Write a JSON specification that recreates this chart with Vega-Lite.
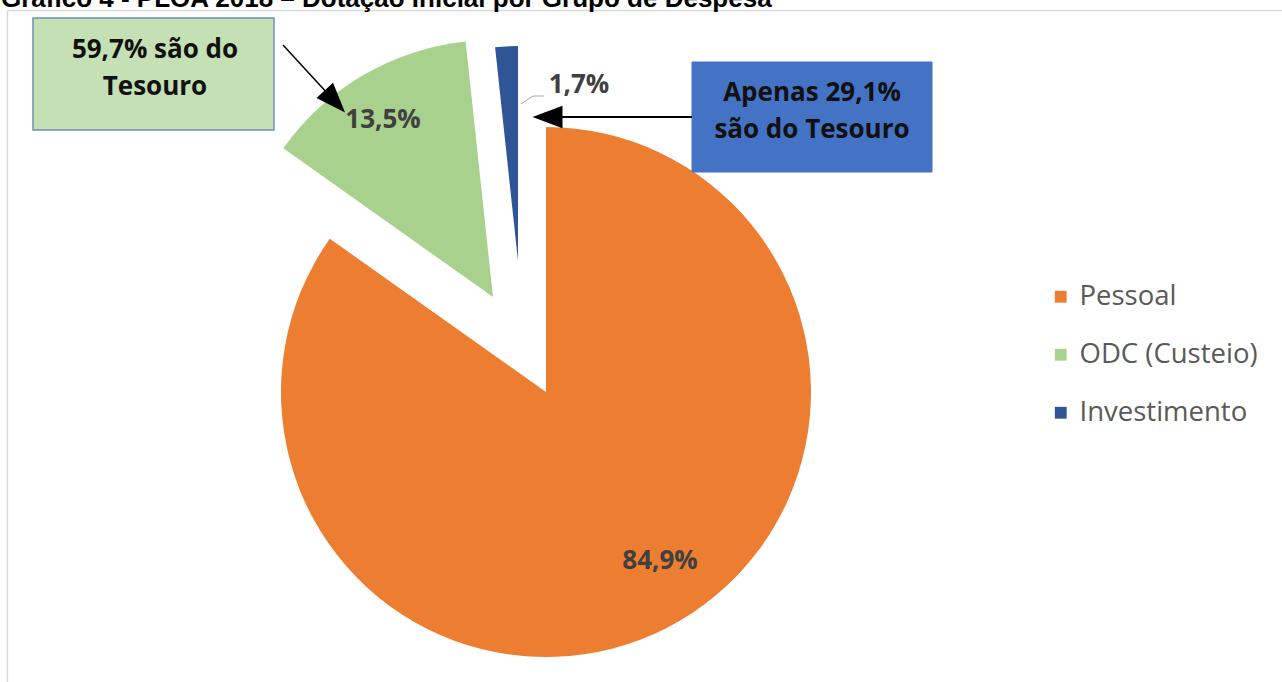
{
  "$schema": "https://vega.github.io/schema/vega-lite/v6.json",
  "width": 1282,
  "height": 682,
  "autosize": "none",
  "padding": 0,
  "background": "white",
  "config": {"view": {"stroke": null}, "font": "Open Sans"},
  "datasets": {
    "grupos": [
      {"grupo": "Pessoal", "valor": 84.9, "rotulo": "84,9%"},
      {"grupo": "ODC (Custeio)", "valor": 13.5, "rotulo": "13,5%"},
      {"grupo": "Investimento", "valor": 1.7, "rotulo": "1,7%"}
    ],
    "notas": [
      {"nota": "verde", "texto": "59,7% são do\nTesouro"},
      {"nota": "azul", "texto": "Apenas 29,1%\nsão do Tesouro"}
    ],
    "titulo": [
      {"texto": "Gráfico 4 - PLOA 2018 – Dotação Inicial por Grupo de Despesa"}
    ]
  },
  "layer": [
    {
      "data": {"values": [{}]},
      "mark": {"type": "rule", "color": "#d9d9d9", "strokeWidth": 1.5},
      "encoding": {"x": {"value": 7.5}, "y": {"value": 10.5}, "x2": {"value": 1282}, "y2": {"value": 10.5}}
    },
    {
      "data": {"values": [{}]},
      "mark": {"type": "rule", "color": "#d9d9d9", "strokeWidth": 1.5},
      "encoding": {"x": {"value": 7.5}, "y": {"value": 10.5}, "x2": {"value": 7.5}, "y2": {"value": 682}}
    },
    {
      "data": {"name": "titulo"},
      "mark": {"type": "text", "x": 1, "y": 6.5, "align": "left", "baseline": "alphabetic", "font": "Liberation Sans", "fontWeight": "bold", "fontSize": 26, "color": "#000000"},
      "encoding": {"text": {"field": "texto"}}
    },
    {
      "data": {"name": "grupos"},
      "transform": [
        {"stack": "valor", "groupby": [], "sort": [{"field": "valor", "order": "descending"}], "as": ["v0", "v1"]},
        {"filter": "datum.grupo === 'Pessoal'"}
      ],
      "mark": {"type": "arc", "x": 546, "y": 392, "radius": 265},
      "encoding": {
        "theta": {"field": "v0", "type": "quantitative", "scale": {"domain": [0, 100.1]}},
        "theta2": {"field": "v1"},
        "color": {
          "field": "grupo", "type": "nominal",
          "scale": {"domain": ["Pessoal", "ODC (Custeio)", "Investimento"], "range": ["#ed7d31", "#a9d18e", "#2f5597"]},
          "legend": {"orient": "none", "legendX": 1047, "legendY": 283, "title": null, "symbolType": "square", "symbolSize": 140, "symbolStrokeWidth": 0, "labelFont": "Open Sans", "labelFontSize": 27.5, "labelColor": "#595959", "labelOffset": 5, "labelLimit": 400, "rowPadding": 29}
        }
      }
    },
    {
      "data": {"name": "grupos"},
      "transform": [
        {"stack": "valor", "groupby": [], "sort": [{"field": "valor", "order": "descending"}], "as": ["v0", "v1"]},
        {"filter": "datum.grupo === 'ODC (Custeio)'"}
      ],
      "mark": {"type": "arc", "x": 493, "y": 297, "radius": 257},
      "encoding": {
        "theta": {"field": "v0", "type": "quantitative"},
        "theta2": {"field": "v1"},
        "color": {"field": "grupo", "type": "nominal"}
      }
    },
    {
      "data": {"name": "grupos"},
      "transform": [
        {"stack": "valor", "groupby": [], "sort": [{"field": "valor", "order": "descending"}], "as": ["v0", "v1"]},
        {"filter": "datum.grupo === 'Investimento'"}
      ],
      "mark": {"type": "arc", "x": 518, "y": 261, "radius": 215},
      "encoding": {
        "theta": {"field": "v0", "type": "quantitative"},
        "theta2": {"field": "v1"},
        "color": {"field": "grupo", "type": "nominal"}
      }
    },
    {
      "data": {"name": "grupos"},
      "transform": [{"filter": "datum.grupo === 'Pessoal'"}],
      "mark": {"type": "text", "x": 660, "y": 561, "align": "center", "baseline": "middle", "font": "Open Sans", "fontWeight": "bold", "fontSize": 26, "color": "#404040"},
      "encoding": {"text": {"field": "rotulo"}}
    },
    {
      "data": {"name": "grupos"},
      "transform": [{"filter": "datum.grupo === 'ODC (Custeio)'"}],
      "mark": {"type": "text", "x": 383, "y": 120, "align": "center", "baseline": "middle", "font": "Open Sans", "fontWeight": "bold", "fontSize": 26, "color": "#404040"},
      "encoding": {"text": {"field": "rotulo"}}
    },
    {
      "data": {"name": "grupos"},
      "transform": [{"filter": "datum.grupo === 'Investimento'"}],
      "mark": {"type": "text", "x": 579, "y": 85, "align": "center", "baseline": "middle", "font": "Open Sans", "fontWeight": "bold", "fontSize": 26, "color": "#404040"},
      "encoding": {"text": {"field": "rotulo"}}
    },
    {
      "data": {"values": [{}]},
      "mark": {"type": "rule", "color": "#a6a6a6", "strokeWidth": 1},
      "encoding": {"x": {"value": 521}, "y": {"value": 104}, "x2": {"value": 533}, "y2": {"value": 96}}
    },
    {
      "data": {"values": [{}]},
      "mark": {"type": "rule", "color": "#a6a6a6", "strokeWidth": 1},
      "encoding": {"x": {"value": 533}, "y": {"value": 96}, "x2": {"value": 544}, "y2": {"value": 96}}
    },
    {
      "data": {"values": [{}]},
      "mark": {"type": "rect", "x": 33, "y": 18, "x2": 274, "y2": 130, "fill": "#c5e0b4", "stroke": "#6d8fb3", "strokeWidth": 1.5},
      "encoding": {}
    },
    {
      "data": {"values": [{}]},
      "mark": {"type": "rect", "x": 692, "y": 62, "x2": 932, "y2": 172, "fill": "#4472c4", "stroke": "#4472c4", "strokeWidth": 1},
      "encoding": {}
    },
    {
      "data": {"name": "notas"},
      "transform": [{"filter": "datum.nota === 'verde'"}],
      "mark": {"type": "text", "x": 155, "y": 50, "align": "center", "baseline": "middle", "lineBreak": "\n", "lineHeight": 37, "font": "Open Sans", "fontWeight": "bold", "fontSize": 26, "color": "#111111"},
      "encoding": {"text": {"field": "texto"}}
    },
    {
      "data": {"name": "notas"},
      "transform": [{"filter": "datum.nota === 'azul'"}],
      "mark": {"type": "text", "x": 812, "y": 93, "align": "center", "baseline": "middle", "lineBreak": "\n", "lineHeight": 37, "font": "Open Sans", "fontWeight": "bold", "fontSize": 26, "color": "#111111"},
      "encoding": {"text": {"field": "texto"}}
    },
    {
      "data": {"values": [{}]},
      "mark": {"type": "rule", "color": "#000000", "strokeWidth": 2},
      "encoding": {"x": {"value": 552}, "y": {"value": 117}, "x2": {"value": 692}, "y2": {"value": 117}}
    },
    {
      "data": {"values": [{}]},
      "mark": {"type": "point", "shape": "M-1,0L1,-0.75L1,0.75Z", "size": 900, "filled": true, "color": "#000000", "opacity": 1, "strokeWidth": 0},
      "encoding": {"x": {"value": 547.5}, "y": {"value": 117}}
    },
    {
      "data": {"values": [{}]},
      "mark": {"type": "rule", "color": "#000000", "strokeWidth": 1.5},
      "encoding": {"x": {"value": 283}, "y": {"value": 45}, "x2": {"value": 334}, "y2": {"value": 100.5}}
    },
    {
      "data": {"values": [{}]},
      "mark": {"type": "point", "shape": "M1,0L-1,-0.75L-1,0.75Z", "size": 900, "angle": 47.4, "filled": true, "color": "#000000", "opacity": 1, "strokeWidth": 0},
      "encoding": {"x": {"value": 334.9}, "y": {"value": 101.5}}
    }
  ]
}
